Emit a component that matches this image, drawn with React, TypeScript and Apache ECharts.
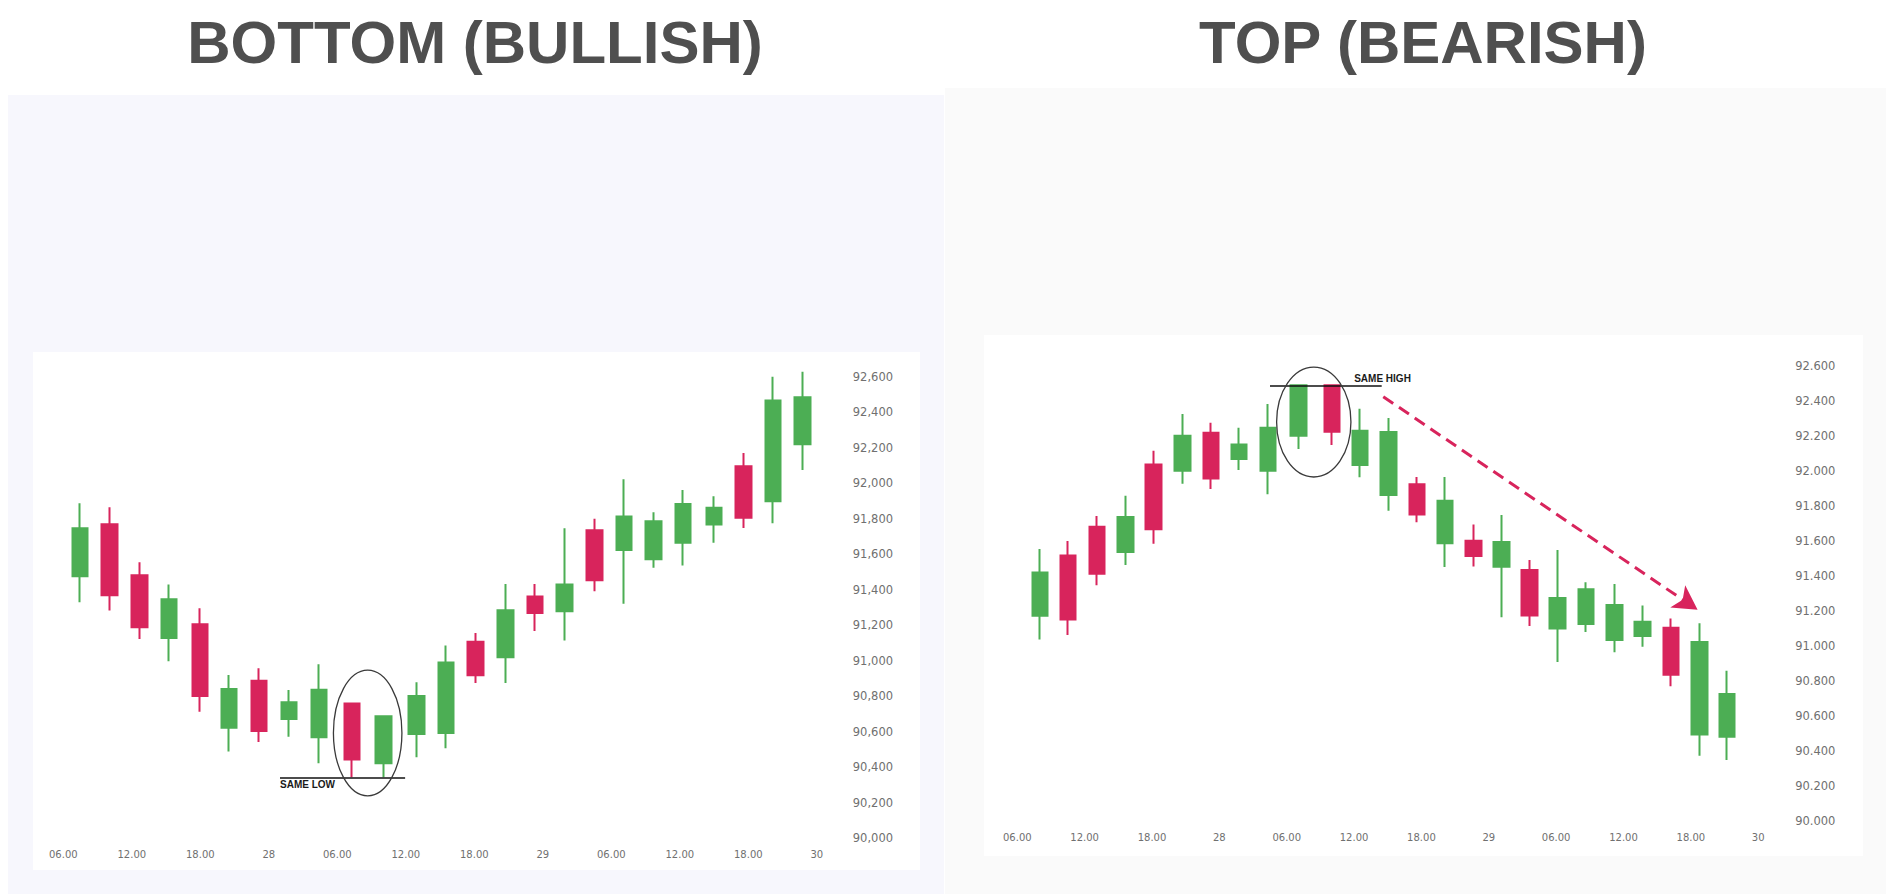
import React, { useEffect, useRef } from 'react';
import * as echarts from 'echarts';

// x values are hours counted from 00.00 on the 27th
const bottomHours = [7.48, 10.06, 12.69, 15.28, 17.97, 20.5, 23.13, 25.77, 28.4, 31.3, 34.04, 36.94, 39.53, 42.11, 44.75, 47.33, 49.91, 52.55, 55.13, 57.71, 60.3, 62.99, 65.57, 68.15, 70.73];
const bottomOpen = [91476, 91769, 91481, 91128, 91205, 90622, 90887, 90671, 90568, 90758, 90421, 90586, 90592, 91107, 91019, 91361, 91278, 91735, 91624, 91571, 91665, 91767, 92096, 91898, 92220];
const bottomClose = [91746, 91368, 91188, 91346, 90801, 90840, 90603, 90765, 90836, 90442, 90686, 90801, 90989, 90917, 91284, 91269, 91429, 91453, 91812, 91786, 91883, 91861, 91806, 92466, 92485];
const bottomLow = [91329, 91282, 91122, 90996, 90712, 90487, 90541, 90571, 90421, 90342, 90342, 90455, 90506, 90874, 90874, 91167, 91113, 91391, 91320, 91523, 91536, 91665, 91748, 91774, 92075];
const bottomHigh = [91887, 91865, 91554, 91429, 91295, 90919, 90957, 90835, 90979, 90758, 90686, 90878, 91085, 91156, 91432, 91432, 91746, 91799, 92023, 91836, 91962, 91927, 92171, 92600, 92628];

const topHours = [8.01, 10.53, 13.11, 15.63, 18.15, 20.73, 23.25, 25.77, 28.34, 31.03, 34.03, 36.55, 39.07, 41.59, 44.11, 46.63, 49.15, 51.62, 54.14, 56.66, 59.18, 61.71, 64.23, 66.75, 69.22];
const topOpen = [91171, 91516, 91680, 91535, 92036, 92000, 92217, 92067, 92000, 92200, 92488, 92032, 91861, 91922, 91585, 91600, 91451, 91432, 91099, 91124, 91032, 91055, 91103, 90493, 90480];
const topClose = [91419, 91150, 91411, 91735, 91665, 92200, 91956, 92150, 92246, 92488, 92223, 92229, 92221, 91750, 91829, 91512, 91592, 91173, 91272, 91322, 91232, 91137, 90834, 91021, 90724];
const topLow = [91036, 91061, 91345, 91461, 91583, 91926, 91895, 92004, 91865, 92124, 92147, 91962, 91771, 91705, 91450, 91453, 91162, 91112, 90907, 91078, 90962, 90994, 90768, 90371, 90347];
const topHigh = [91552, 91598, 91741, 91857, 92114, 92324, 92274, 92246, 92381, 92488, 92488, 92354, 92301, 91964, 91964, 91693, 91747, 91490, 91547, 91362, 91352, 91230, 91156, 91128, 90857];

const titles = ['BOTTOM (BULLISH)', 'TOP (BEARISH)'];
const sameLow = 90342;
const sameHigh = 92486;

const GREEN = '#4cae54';
const RED = '#d8245c';
const LABEL = '#707070';

const candles = (hours: number[], open: number[], close: number[], low: number[], high: number[]) =>
  hours.map((h, i) => [h, open[i], close[i], low[i], high[i]]);

const timeLabel = (v: number) => {
  if (v % 6 !== 0) return '';
  const h = v % 24;
  if (h === 0) return String(27 + v / 24);
  return String(h).padStart(2, '0') + '.00';
};

const priceLabel = (sep: string) => (v: number) => {
  if (v % 200 !== 0 || v > 92600) return '';
  return Math.floor(v / 1000) + sep + String(v % 1000).padStart(3, '0');
};

const xAxisFor = (gridIndex: number, margin: number) => ({
  type: 'value',
  gridIndex,
  min: 6,
  max: 72,
  interval: 6,
  axisLine: { show: false },
  axisTick: { show: false },
  splitLine: { show: false },
  axisLabel: {
    formatter: timeLabel,
    margin,
    showMinLabel: true,
    showMaxLabel: true,
    color: LABEL,
    fontSize: 10,
    fontFamily: 'DejaVu Sans',
  },
});

const yAxisFor = (gridIndex: number, sep: string, margin: number) => ({
  type: 'value',
  gridIndex,
  position: 'right',
  min: 90000,
  max: 92800,
  interval: 200,
  axisLine: { show: false },
  axisTick: { show: false },
  splitLine: { show: false },
  axisLabel: {
    formatter: priceLabel(sep),
    margin,
    color: LABEL,
    fontSize: 11.5,
    fontFamily: 'DejaVu Sans',
  },
});

const candleStyle = {
  color: GREEN,
  color0: RED,
  borderColor: GREEN,
  borderColor0: RED,
  borderWidth: 2,
};

const App: React.FC = () => {
  const chartRef = useRef<HTMLDivElement>(null);

  useEffect(() => {
    if (!chartRef.current) return;
    const chart = echarts.init(chartRef.current, undefined, { renderer: 'svg' });

    chart.setOption({
      animation: false,
      grid: [
        { left: 63.3, top: 341.3, width: 753.5, height: 496.7 },
        { left: 1017.3, top: 330.7, width: 740.9, height: 490 },
      ],
      xAxis: [xAxisFor(0, 11), xAxisFor(1, 12)],
      yAxis: [yAxisFor(0, ',', 36), yAxisFor(1, '.', 37)],
      series: [
        {
          type: 'candlestick',
          xAxisIndex: 0,
          yAxisIndex: 0,
          barWidth: 16,
          itemStyle: candleStyle,
          data: candles(bottomHours, bottomOpen, bottomClose, bottomLow, bottomHigh),
          markLine: {
            silent: true,
            symbol: 'none',
            label: { show: false },
            lineStyle: { color: '#111', width: 1.5, type: 'solid' },
            data: [[{ coord: [24.98, sameLow] }, { coord: [35.94, sameLow] }]],
          },
        },
        {
          type: 'candlestick',
          xAxisIndex: 1,
          yAxisIndex: 1,
          barWidth: 16,
          itemStyle: candleStyle,
          data: candles(topHours, topOpen, topClose, topLow, topHigh),
          markLine: {
            silent: true,
            symbol: 'none',
            label: { show: false },
            lineStyle: { color: '#111', width: 1.5, type: 'solid' },
            data: [
              [{ coord: [28.51, sameHigh] }, { coord: [38.46, sameHigh] }],
              [
                {
                  coord: [38.6, 92423],
                  symbol: 'none',
                  lineStyle: { color: RED, width: 3, type: [12, 7] },
                },
                { coord: [66.6, 91205], symbol: 'arrow', symbolSize: [20, 24] },
              ],
            ],
          },
        },
      ],
    });

    const px = (g: number, x: number, y: number) => chart.convertToPixel({ gridIndex: g }, [x, y]) as number[];
    const ellipse = (g: number, x: number, y: number, dx: number, dy: number) => {
      const c = px(g, x, y);
      const e = px(g, x + dx, y + dy);
      return {
        type: 'ellipse',
        z: 10,
        shape: { cx: c[0], cy: c[1], rx: e[0] - c[0], ry: c[1] - e[1] },
        style: { fill: 'none', stroke: '#3a3a3a', lineWidth: 1.3 },
      };
    };
    const note = (g: number, x: number, y: number, text: string) => {
      const p = px(g, x, y);
      return {
        type: 'text',
        z: 10,
        x: p[0],
        y: p[1],
        style: {
          text,
          align: 'left',
          verticalAlign: 'middle',
          font: 'bold 10px "Liberation Sans"',
          fill: '#1a1a1a',
        },
      };
    };

    chart.setOption({
      graphic: [
        { type: 'rect', z: 0, shape: { x: 8, y: 95, width: 936, height: 799 }, style: { fill: '#f7f7fd' } },
        { type: 'rect', z: 0, shape: { x: 945, y: 88, width: 941, height: 806 }, style: { fill: '#fafafa' } },
        { type: 'rect', z: 0, shape: { x: 33, y: 352, width: 887, height: 518 }, style: { fill: '#ffffff' } },
        { type: 'rect', z: 0, shape: { x: 984, y: 335, width: 879, height: 521 }, style: { fill: '#ffffff' } },
        {
          type: 'text',
          z: 10,
          x: 475,
          y: 42,
          style: { text: titles[0], align: 'center', verticalAlign: 'middle', font: 'bold 60px "Liberation Sans"', fill: '#4f4f4f' },
        },
        {
          type: 'text',
          z: 10,
          x: 1423,
          y: 42,
          style: { text: titles[1], align: 'center', verticalAlign: 'middle', font: 'bold 60px "Liberation Sans"', fill: '#4f4f4f' },
        },
        ellipse(0, 32.66, 90592, 3.0, 354),
        note(0, 24.98, 90303, 'SAME LOW'),
        ellipse(1, 32.41, 92278, 3.31, 314),
        note(1, 36.01, 92528, 'SAME HIGH'),
      ],
    });

    return () => {
      chart.dispose();
    };
  }, []);

  return (
    <div
      ref={chartRef}
      style={{ position: 'fixed', left: 0, top: 0, width: 1886, height: 894, background: '#ffffff' }}
    />
  );
};

export default App;
